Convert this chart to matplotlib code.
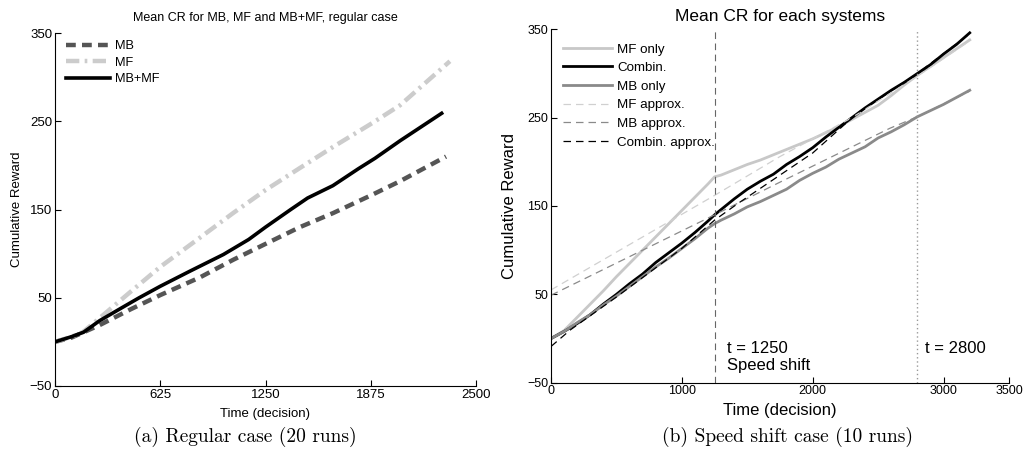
import matplotlib
matplotlib.use("Agg")
import matplotlib.pyplot as plt

plt.rcParams['font.family'] = ['Liberation Sans', 'DejaVu Sans']

# ---------------- Panel (a): regular case ----------------
t_mb = [0, 100, 265, 450, 625, 860, 1058, 1250, 1454, 1652, 1876, 2048, 2322]
cr_mb = [0, 5, 19, 37, 53, 73, 93, 111, 130, 146, 166, 182, 210]

t_mf = [0, 100, 165, 265, 450, 625, 860, 1058, 1250, 1454, 1652, 1876, 2048, 2345]
cr_mf = [0, 6, 11, 27, 57, 85, 118, 146, 172, 197, 221, 247, 268, 318]

t_mbmf = [0, 100, 170, 265, 400, 500, 625, 800, 1000, 1150, 1250, 1400, 1500,
          1650, 1800, 1900, 2050, 2296]
cr_mbmf = [0, 6, 11, 24, 39, 50, 63, 80, 99, 116, 130, 150, 163,
           177, 196, 208, 228, 259]

a_xticks = [0, 625, 1250, 1875, 2500]
a_yticks = [-50, 50, 150, 250, 350]

# ---------------- Panel (b): speed shift case ----------------
t_b = [0, 100, 200, 300, 400, 500, 600, 700, 800, 900, 1000, 1100, 1200, 1250,
       1300, 1400, 1500, 1600, 1700, 1800, 1900, 2000, 2100, 2200, 2300, 2400,
       2500, 2600, 2700, 2800, 2900, 3000, 3100, 3200]
cr_mf_only = [0, 9, 24, 39, 54, 70, 85, 100, 115, 130, 145, 160, 175, 183,
              185, 191, 197, 202, 208, 214, 220, 226, 233, 240, 248, 256,
              264, 275, 287, 298, 308, 318, 328, 338]
cr_combin = [0, 8, 17, 27, 39, 50, 62, 73, 86, 97, 108, 120, 133, 140,
             146, 158, 169, 178, 186, 197, 206, 216, 228, 239, 250, 261,
             271, 281, 290, 300, 310, 322, 333, 346]
cr_mb_only = [0, 8, 18, 27, 38, 48, 59, 70, 81, 91, 102, 113, 125, 130,
              134, 141, 149, 155, 162, 169, 179, 187, 194, 203, 210, 217,
              227, 234, 242, 251, 258, 265, 273, 281]

t_mf_appr = [0, 1250, 1750, 2300, 2800, 3200]
cr_mf_appr = [55, 162, 206, 250, 297, 337]
t_mb_appr = [0, 1250, 1750, 2590, 2800, 3200]
cr_mb_appr = [49, 140, 177, 238, 251, 280]
t_cb_appr = [0, 150, 500, 1000, 1250, 1430, 1750, 2000, 2340, 2800, 3200]
cr_cb_appr = [-9, 10, 47, 102, 134, 153, 185, 210, 255, 300, 345]

b_xticks = [0, 1000, 2000, 3000, 3500]
b_yticks = [-50, 50, 150, 250, 350]

W, H = 1032, 458
fig = plt.figure(figsize=(W / 100, H / 100), dpi=100)

def style_axes(ax, fs):
    for s in ['top', 'right']:
        ax.spines[s].set_visible(False)
    for s in ['left', 'bottom']:
        ax.spines[s].set_linewidth(0.8)
    ax.tick_params(direction='in', length=4, width=0.8, labelsize=fs, pad=2)

# ---- Panel a
ax1 = fig.add_axes([55 / W, 1 - 386 / H, (476 - 55) / W, (386 - 33) / H])
ax1.plot(t_mb, cr_mb, color='#555555', lw=3.2, dashes=(2.2, 1.4), label='MB')
ax1.plot(t_mf, cr_mf, color='#cccccc', lw=3.2, dashes=(3.0, 1.2, 0.6, 1.2), label='MF')
ax1.plot(t_mbmf, cr_mbmf, color='black', lw=2.6, label='MB+MF')
ax1.set_xlim(0, 2500)
ax1.set_ylim(-50, 350)
ax1.set_xticks(a_xticks)
ax1.set_yticks(a_yticks)
style_axes(ax1, 9.5)
ax1.set_title('Mean CR for MB, MF and MB+MF, regular case', fontsize=9, pad=9)
ax1.set_xlabel('Time (decision)', fontsize=9.5, labelpad=5)
ax1.set_ylabel('Cumulative Reward', fontsize=9.5)
ax1.yaxis.set_label_coords((23 - 55) / 421, 0.5)
ax1.legend(loc='upper left', frameon=False, fontsize=9.2, handlelength=3.5,
           handletextpad=0.4, labelspacing=0.35, borderaxespad=0.1,
           bbox_to_anchor=(0.01, 0.997))

# ---- Panel b
ax2 = fig.add_axes([551 / W, 1 - 382.7 / H, (1009 - 551) / W, (382.7 - 29.3) / H])
ax2.plot(t_b, cr_mf_only, color='#c8c8c8', lw=2.0, label='MF only')
ax2.plot(t_b, cr_combin, color='black', lw=2.0, label='Combin.')
ax2.plot(t_b, cr_mb_only, color='#8a8a8a', lw=2.0, label='MB only')
ax2.plot(t_mf_appr, cr_mf_appr, color='#d0d0d0', lw=0.9, dashes=(6, 4), label='MF approx.')
ax2.plot(t_mb_appr, cr_mb_appr, color='#8a8a8a', lw=0.9, dashes=(6, 4), label='MB approx.')
ax2.plot(t_cb_appr, cr_cb_appr, color='black', lw=0.9, dashes=(6, 4), label='Combin. approx.')
ax2.axvline(1250, color='#666666', lw=0.8, dashes=(6, 4))
ax2.axvline(2800, color='#999999', lw=1.0, dashes=(1, 2))
ax2.text(1343, -11, 't = 1250', fontsize=12, va='center', ha='left')
ax2.text(1343, -31, 'Speed shift', fontsize=12, va='center', ha='left')
ax2.text(2858, -11, 't = 2800', fontsize=12, va='center', ha='left')
ax2.set_xlim(0, 3500)
ax2.set_ylim(-50, 350)
ax2.set_xticks(b_xticks)
ax2.set_yticks(b_yticks)
style_axes(ax2, 9)
ax2.set_title('Mean CR for each systems', fontsize=12.5, pad=6)
ax2.set_xlabel('Time (decision)', fontsize=12, labelpad=4)
ax2.set_ylabel('Cumulative Reward', fontsize=12)
ax2.yaxis.set_label_coords((517 - 551) / 458, 0.5)
ax2.legend(loc='upper left', frameon=False, fontsize=9.6, handlelength=3.7,
           handletextpad=0.35, labelspacing=0.47, borderaxespad=0.3,
           bbox_to_anchor=(0.006, 0.987))

# captions
fig.text(245 / W, 1 - 437 / H, '(a) Regular case (20 runs)', fontsize=14,
         family=['cmr10', 'DejaVu Serif'], ha='center', va='center')
fig.text(787 / W, 1 - 437 / H, '(b) Speed shift case (10 runs)', fontsize=14,
         family=['cmr10', 'DejaVu Serif'], ha='center', va='center')

fig.savefig('out.png', dpi=100)
